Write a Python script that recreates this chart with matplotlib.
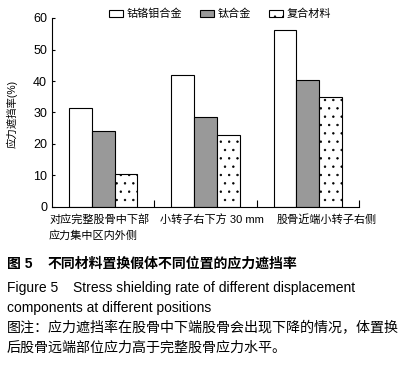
import numpy as np
import matplotlib
matplotlib.use('Agg')
import matplotlib.pyplot as plt

plt.rcParams['font.family'] = ['Liberation Sans', 'Noto Sans CJK SC', 'DejaVu Sans']
plt.rcParams['hatch.linewidth'] = 0.5

# data
positions = ['对应完整股骨中下部\n应力集中区内外侧', '小转子右下方 30 mm', '股骨近端小转子右侧']
materials = ['钴铬钼合金', '钛合金', '复合材料']
cocrmo = [31.3, 42.0, 56.1]
titanium = [24.0, 28.5, 40.2]
composite = [10.4, 22.8, 34.8]

W, H = 408, 371
fig = plt.figure(figsize=(W / 100, H / 100), dpi=100)
ax = fig.add_axes([52 / W, 1 - 207 / H, (359 - 52) / W, (207 - 18) / H])

x = np.arange(len(positions)) + 0.5
bw = 0.222
kw = dict(edgecolor='black', linewidth=0.8)
ax.bar(x - bw, cocrmo, bw, color='white', label=materials[0], **kw)
ax.bar(x, titanium, bw, color='#999999', label=materials[1], **kw)
ax.bar(x + bw, composite, bw, color='white', hatch='..', label=materials[2], **kw)

ax.set_xlim(0, 3)
ax.set_ylim(0, 60)
ax.set_yticks([0, 10, 20, 30, 40, 50, 60])
ax.set_xticks([1, 2, 3])
ax.set_xticklabels([])
ax.tick_params(axis='x', direction='in', length=5, width=0.8)
ax.tick_params(axis='y', direction='in', length=2.5, width=0.8, labelsize=9, pad=3.5)
for s in ['top', 'right']:
    ax.spines[s].set_visible(False)
for s in ['left', 'bottom']:
    ax.spines[s].set_linewidth(0.8)

# category labels under the groups
label_x = [49, 160, 277]
for lx, txt in zip(label_x, positions):
    fig.text(lx / W, 1 - 214 / H, txt, fontsize=8, ha='left', va='top', linespacing=1.6)

fig.text(12 / W, 1 - 114 / H, '应力遮挡率(%)', rotation=90, fontsize=7.5,
         ha='center', va='center')

fig.legend(loc='center', bbox_to_anchor=(220 / W, 1 - 14 / H), ncol=3, frameon=False,
           fontsize=8, handlelength=1.3, handleheight=0.55, handletextpad=0.35,
           columnspacing=1.55, borderpad=0)

# caption
fig.text(7 / W, 1 - 264 / H, '图 5', fontsize=10, fontweight='bold', va='center')
fig.text(48 / W, 1 - 264 / H, '不同材料置换假体不同位置的应力遮挡率', fontsize=10,
         fontweight='bold', va='center')
fig.text(7 / W, 1 - 288 / H, 'Figure 5', fontsize=10, va='center')
fig.text(73 / W, 1 - 288 / H, 'Stress shielding rate of different displacement',
         fontsize=10, va='center')
fig.text(7 / W, 1 - 308 / H, 'components at different positions', fontsize=10, va='center')
fig.text(7 / W, 1 - 328 / H, '图注：应力遮挡率在股骨中下端股骨会出现下降的情况，体置换',
         fontsize=10.1, va='center')
fig.text(7 / W, 1 - 348 / H, '后股骨远端部位应力高于完整股骨应力水平。', fontsize=10.1, va='center')

fig.savefig('out.png', dpi=100)
